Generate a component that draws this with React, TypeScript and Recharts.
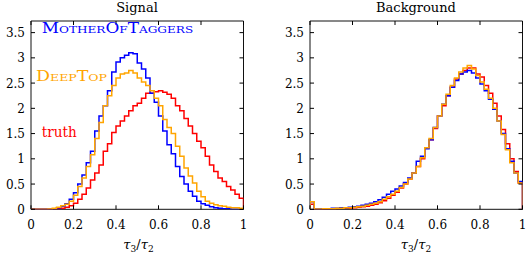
import { LineChart, Line, XAxis, YAxis, ReferenceArea } from "recharts"

// bin left edges, 50 bins over [0, 1]
const binEdges = Array.from({ length: 50 }, (_, i) => i / 50)

const xTicks = [0, 0.2, 0.4, 0.6, 0.8, 1]
const yTicks = [0, 0.5, 1, 1.5, 2, 2.5, 3, 3.5]
const yMax = 3.73

const signalMoT = [
  0, 0, 0, 0, 0, 0.01, 0.03, 0.06, 0.11, 0.2,
  0.33, 0.5, 0.68, 0.92, 1.15, 1.55, 1.85, 2.05, 2.35, 2.72,
  2.92, 3.0, 3.05, 3.1, 3.08, 2.9, 2.78, 2.6, 2.3, 2.12,
  1.85, 1.55, 1.28, 1.1, 0.85, 0.65, 0.5, 0.36, 0.26, 0.16,
  0.11, 0.08, 0.05, 0.03, 0.02, 0.01, 0.01, 0, 0, 0,
]
const signalDeepTop = [
  0, 0, 0, 0, 0.005, 0.02, 0.04, 0.07, 0.1, 0.16,
  0.28, 0.45, 0.62, 0.85, 1.08, 1.4, 1.72, 2.05, 2.25, 2.45,
  2.6, 2.68, 2.7, 2.75, 2.7, 2.6, 2.52, 2.45, 2.35, 2.2,
  2.05, 1.78, 1.62, 1.5, 1.25, 1.05, 0.82, 0.66, 0.52, 0.36,
  0.25, 0.16, 0.12, 0.09, 0.07, 0.06, 0.04, 0.03, 0.03, 0.02,
]
const signalTruth = [
  0, 0, 0, 0, 0, 0.005, 0.01, 0.02, 0.04, 0.07,
  0.12, 0.2, 0.3, 0.42, 0.58, 0.72, 0.88, 1.15, 1.3, 1.52,
  1.65, 1.75, 1.85, 1.95, 2.05, 2.1, 2.2, 2.3, 2.3, 2.33,
  2.35, 2.32, 2.28, 2.2, 2.05, 1.95, 1.8, 1.65, 1.5, 1.35,
  1.22, 1.05, 0.88, 0.75, 0.62, 0.55, 0.45, 0.38, 0.3, 0.22,
]

const bgMoT = [
  0.15, 0.01, 0.01, 0.01, 0.01, 0.02, 0.02, 0.03, 0.03, 0.04,
  0.05, 0.06, 0.08, 0.1, 0.12, 0.15, 0.19, 0.24, 0.3, 0.36,
  0.4, 0.46, 0.53, 0.62, 0.72, 0.95, 1.05, 1.2, 1.38, 1.62,
  1.85, 2.08, 2.25, 2.42, 2.55, 2.68, 2.72, 2.75, 2.7, 2.6,
  2.48, 2.35, 2.18, 1.98, 1.75, 1.5, 1.2, 0.95, 0.72, 0.55,
]
const bgDeepTop = [
  0.15, 0.005, 0.005, 0.01, 0.01, 0.01, 0.02, 0.02, 0.03, 0.03,
  0.04, 0.05, 0.06, 0.08, 0.1, 0.12, 0.15, 0.2, 0.25, 0.3,
  0.36, 0.43, 0.5, 0.6, 0.72, 0.85, 1.02, 1.22, 1.4, 1.62,
  1.85, 2.08, 2.28, 2.45, 2.6, 2.72, 2.8, 2.85, 2.78, 2.65,
  2.52, 2.38, 2.2, 2.0, 1.75, 1.48, 1.18, 0.92, 0.72, 0.52,
]
const bgTruth = [
  0.1, 0.005, 0.005, 0.005, 0.01, 0.01, 0.01, 0.02, 0.02, 0.02,
  0.03, 0.04, 0.05, 0.06, 0.08, 0.1, 0.13, 0.17, 0.22, 0.28,
  0.34, 0.42, 0.5, 0.6, 0.72, 0.85, 1.0, 1.22, 1.38, 1.6,
  1.85, 2.05, 2.25, 2.42, 2.58, 2.68, 2.75, 2.8, 2.8, 2.68,
  2.62, 2.45, 2.3, 2.1, 1.85, 1.58, 1.3, 1.0, 0.75, 0.52,
]

const BLUE = "#0000ff"
const ORANGE = "#ffa500"
const RED = "#ff0000"
const FONT = "DejaVu Serif"

const toSteps = (values: number[]) => [
  { x: 0, y: 0 },
  ...values.map((v, i) => ({ x: binEdges[i], y: v })),
  { x: 1, y: values[values.length - 1] },
  { x: 1, y: 0 },
]

const PLOT_TOP = 21
const PLOT_BOTTOM = 209.3
const CHART_H = 258

const textStyle = { fontFamily: FONT }

function makeXTick() {
  return (props: any) => {
    const { x, payload } = props
    return (
      <g>
        <line x1={x} x2={x} y1={PLOT_BOTTOM} y2={PLOT_BOTTOM - 4} stroke="#000" />
        <line x1={x} x2={x} y1={PLOT_TOP} y2={PLOT_TOP + 4} stroke="#000" />
        <text x={x} y={PLOT_BOTTOM + 20} textAnchor="middle" fontSize={12} style={textStyle} fill="#000">
          {String(payload.value)}
        </text>
      </g>
    )
  }
}

function makeYTick(left: number, right: number) {
  return (props: any) => {
    const { y, payload } = props
    return (
      <g>
        <line x1={left} x2={left + 4} y1={y} y2={y} stroke="#000" />
        <line x1={right - 4} x2={right} y1={y} y2={y} stroke="#000" />
        <text x={left - 6} y={y + 4.5} textAnchor="end" fontSize={12} style={textStyle} fill="#000">
          {String(payload.value)}
        </text>
      </g>
    )
  }
}

function Panel({
  left,
  width,
  plotLeft,
  plotRight,
  series,
}: {
  left: number
  width: number
  plotLeft: number
  plotRight: number
  series: { data: number[]; color: string; name: string }[]
}) {
  return (
    <div style={{ position: "absolute", left, top: 0 }}>
      <LineChart
        width={width}
        height={CHART_H}
        margin={{ top: PLOT_TOP, right: width - plotRight, bottom: 0, left: 0 }}
      >
        <XAxis
          type="number"
          dataKey="x"
          domain={[0, 1]}
          ticks={xTicks}
          height={CHART_H - PLOT_BOTTOM}
          axisLine={false}
          tickLine={false}
          tickSize={0}
          tick={makeXTick()}
          allowDataOverflow
        />
        <YAxis
          type="number"
          domain={[0, yMax]}
          ticks={yTicks}
          width={plotLeft}
          axisLine={false}
          tickLine={false}
          tickSize={0}
          tick={makeYTick(plotLeft, plotRight)}
          allowDataOverflow
        />
        <ReferenceArea x1={0} x2={1} y1={0} y2={yMax} fill="none" stroke="#111" strokeWidth={1} />
        {series.map((s) => (
          <Line
            key={s.name}
            data={toSteps(s.data)}
            dataKey="y"
            type="stepAfter"
            stroke={s.color}
            strokeWidth={1.5}
            dot={false}
            activeDot={false}
            isAnimationActive={false}
          />
        ))}
      </LineChart>
    </div>
  )
}

function TauLabel({ cx }: { cx: number }) {
  return (
    <text x={cx} y={248.5} textAnchor="middle" fontSize={13} style={textStyle} fill="#000">
      <tspan fontStyle="italic">τ</tspan>
      <tspan fontSize={9} dy={3}>3</tspan>
      <tspan dy={-3}>/</tspan>
      <tspan fontStyle="italic">τ</tspan>
      <tspan fontSize={9} dy={3}>2</tspan>
    </text>
  )
}

export default function App() {
  return (
    <div style={{ position: "absolute", left: 0, top: 0, width: 529, height: 258, background: "#fff", fontFamily: FONT }}>
      <Panel
        left={0}
        width={265}
        plotLeft={31}
        plotRight={243.5}
        series={[
          { name: "truth", data: signalTruth, color: RED },
          { name: "MotherOfTaggers", data: signalMoT, color: BLUE },
          { name: "DeepTop", data: signalDeepTop, color: ORANGE },
        ]}
      />
      <Panel
        left={265}
        width={264}
        plotLeft={45}
        plotRight={257.5}
        series={[
          { name: "truth", data: bgTruth, color: RED },
          { name: "MotherOfTaggers", data: bgMoT, color: BLUE },
          { name: "DeepTop", data: bgDeepTop, color: ORANGE },
        ]}
      />
      <svg
        width={529}
        height={258}
        style={{ position: "absolute", left: 0, top: 0, pointerEvents: "none" }}
      >
        <text x={137} y={12} textAnchor="middle" fontSize={13} style={textStyle} fill="#000">
          Signal
        </text>
        <text x={416} y={12} textAnchor="middle" fontSize={13} style={textStyle} fill="#000">
          Background
        </text>
        <text x={41.7} y={33.3} fontSize={14} fill={BLUE} style={{ fontFamily: FONT, fontVariant: "small-caps" }} textLength={151.5} lengthAdjust="spacingAndGlyphs">
          MotherOfTaggers
        </text>
        <text x={36} y={81} fontSize={14} fill={ORANGE} style={{ fontFamily: FONT, fontVariant: "small-caps" }} textLength={71} lengthAdjust="spacingAndGlyphs">
          DeepTop
        </text>
        <text x={41.7} y={137.3} fontSize={14} fill={RED} style={textStyle} textLength={35} lengthAdjust="spacingAndGlyphs">
          truth
        </text>
        <TauLabel cx={138.5} />
        <TauLabel cx={416} />
      </svg>
    </div>
  )
}
